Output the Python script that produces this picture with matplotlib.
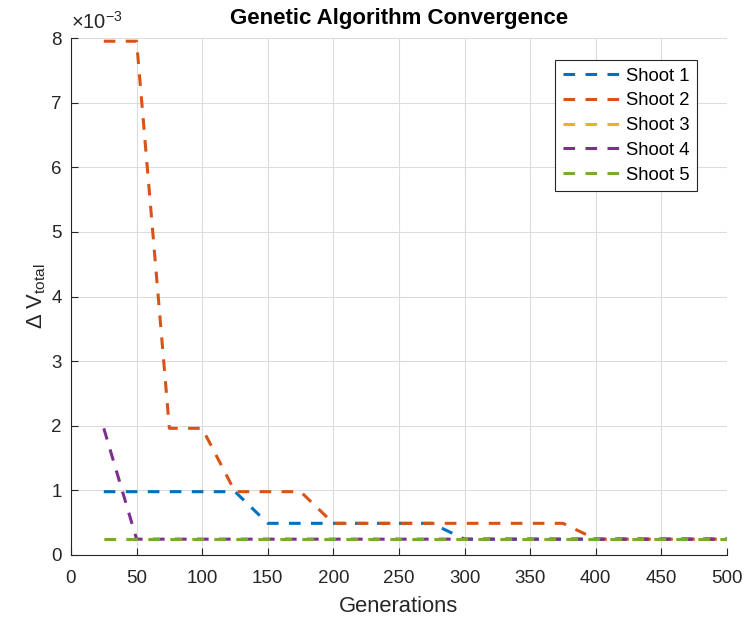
import numpy as np
import matplotlib.pyplot as plt
from matplotlib.ticker import FuncFormatter

plt.rcParams['font.family'] = ['Liberation Sans', 'DejaVu Sans']
plt.rcParams['mathtext.default'] = 'regular'

generazioni = [25, 50, 75, 100, 125, 150, 175, 200, 225, 250, 275, 300, 325, 350,
               375, 400, 425, 450, 475, 500]

shoot1 = [0.98, 0.98, 0.98, 0.98, 0.98, 0.49, 0.49, 0.49, 0.49, 0.49, 0.49, 0.245,
          0.245, 0.245, 0.245, 0.245, 0.245, 0.245, 0.245, 0.245]
shoot2 = [7.95, 7.95, 1.96, 1.96, 0.98, 0.98, 0.98, 0.49, 0.49, 0.49, 0.49, 0.49,
          0.49, 0.49, 0.49, 0.245, 0.245, 0.245, 0.245, 0.245]
shoot3 = [0.245] * 20
shoot4 = [1.96] + [0.245] * 19
shoot5 = [0.245] * 20

serie = [shoot1, shoot2, shoot3, shoot4, shoot5]
nomi = ["Shoot 1", "Shoot 2", "Shoot 3", "Shoot 4", "Shoot 5"]
colori = ["#0072BD", "#D95319", "#EDB120", "#7E2F8E", "#77AC30"]

fig = plt.figure(figsize=(7.45, 6.19), dpi=100)
ax = fig.add_axes([0.0953, 0.1034, 0.8805, 0.8352])

for s, n, c in zip(serie, nomi, colori):
    ax.plot(generazioni, np.array(s) * 1e-3, color=c, lw=2.2, linestyle=(0, (3.8, 3.4)), label=n)

ax.set_xlim(0, 500)
ax.set_ylim(0, 8e-3)
ax.set_xticks(np.arange(0, 501, 50))
ax.set_yticks(np.arange(0, 8.1, 1) * 1e-3)
ax.yaxis.set_major_formatter(FuncFormatter(lambda v, p: f"{v * 1e3:.0f}"))

ax.grid(True, color="#dcdcdc", lw=0.8)
ax.set_axisbelow(True)
for lato in ["top", "right"]:
    ax.spines[lato].set_visible(False)
for lato in ["left", "bottom"]:
    ax.spines[lato].set_color("#262626")
ax.tick_params(direction="in", length=5, colors="#262626", labelsize=13.5)
ax.tick_params(axis="x", pad=10.5)
ax.tick_params(axis="y", pad=6.5)

ax.set_xlabel("Generations", fontsize=15.8, color="#262626", labelpad=6.5)
ax.set_ylabel(r"$\Delta$ V$_{total}$", fontsize=15.8, color="#262626", labelpad=2.5)
ax.set_title("Genetic Algorithm Convergence", fontsize=16, fontweight="bold", pad=10)
ax.text(0, 1.01, r"$\times$10$^{-3}$", transform=ax.transAxes, fontsize=14.5,
        color="#262626", va="bottom")

leg = ax.legend(loc="upper right", bbox_to_anchor=(0.955, 0.957), borderaxespad=0,
                fancybox=False, framealpha=1, edgecolor="#262626", fontsize=13.3,
                handlelength=3.3, handletextpad=0.15, labelspacing=0.42,
                borderpad=0.4)
leg.get_frame().set_linewidth(0.8)

fig.savefig("out.png", dpi=100)
